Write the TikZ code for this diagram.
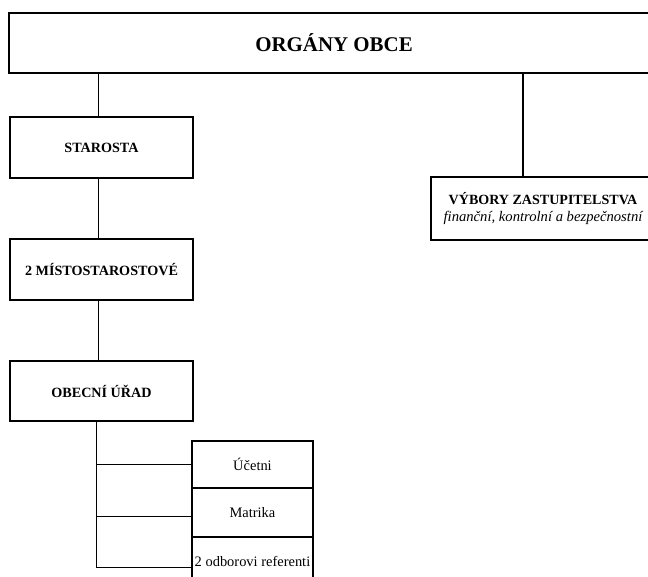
\documentclass[tikz,border=0pt]{standalone}
\usepackage{fontspec}
\setmainfont{Liberation Serif}
\usetikzlibrary{positioning}
\tikzset{
  box/.style={draw,rectangle,line width=1.4bp,inner sep=0pt,outer sep=0pt,align=center},
  orgbox/.style={box,minimum width=183bp,minimum height=61bp,font=\fontsize{14.2}{17}\selectfont\bfseries},
  subbox/.style={box,minimum width=121bp,minimum height=48bp,font=\fontsize{14.5}{17}\selectfont},
  conn/.style={line width=1.8bp}
}

\begin{document}
\begin{tikzpicture}[x=1bp,y=-1bp]
\useasboundingbox (0,0) rectangle (648,577);
\clip (0,0) rectangle (648,577);

\node[box,minimum width=650bp,minimum height=60bp,font=\fontsize{21}{25}\selectfont\bfseries] (organy) at (334,43) {ORGÁNY OBCE};

\node[orgbox,below right=44bp and 1bp of organy.south west] (starosta) {STAROSTA};
\node[orgbox,below=61bp of starosta] (misto) {2 MÍSTOSTAROSTOVÉ};
\node[orgbox,below=61bp of misto,minimum height=60bp] (urad) {OBECNÍ ÚŘAD};

\node[box,below right=104bp and 422bp of organy.south west,minimum width=224bp,minimum height=63bp,
      font=\fontsize{14.1}{17}\selectfont] (vybory)
  {\textbf{VÝBORY ZASTUPITELSTVA}\\{\fontsize{14.7}{17}\selectfont\itshape finanční, kontrolní a bezpečnostní}};

\node[subbox,below right=20bp and -1bp of urad.south east,minimum height=47bp] (ucetni) {Účetni};
\node[subbox,below=0bp of ucetni,minimum height=49bp] (matrika) {Matrika};
\node[subbox,below=0bp of matrika,minimum height=49bp] (referenti) {2 odborovi referenti};

% connectors
\draw[conn] ([xshift=-3bp]starosta.north) -- ([xshift=-3bp]starosta.north |- organy.south);
\draw[conn] ([xshift=-20bp]vybory.north) -- ([xshift=-20bp]vybory.north |- organy.south);
\draw[conn] ([xshift=-3bp]starosta.south) -- ([xshift=-3bp]misto.north);
\draw[conn] ([xshift=-3bp]misto.south) -- ([xshift=-3bp]urad.north);

\coordinate (trunk) at ([xshift=-5bp]urad.south);
\coordinate (br1) at (trunk |- ucetni.west);
\coordinate (br2) at ([yshift=-4bp]trunk |- matrika.west);
\coordinate (br3) at ([yshift=-6bp]trunk |- referenti.west);
\draw[conn] (trunk) -- (br3);
\draw[conn] (br1) -- (br1 -| ucetni.west);
\draw[conn] (br2) -- (br2 -| matrika.west);
\draw[conn] (br3) -- (br3 -| referenti.west);
\end{tikzpicture}
\end{document}
